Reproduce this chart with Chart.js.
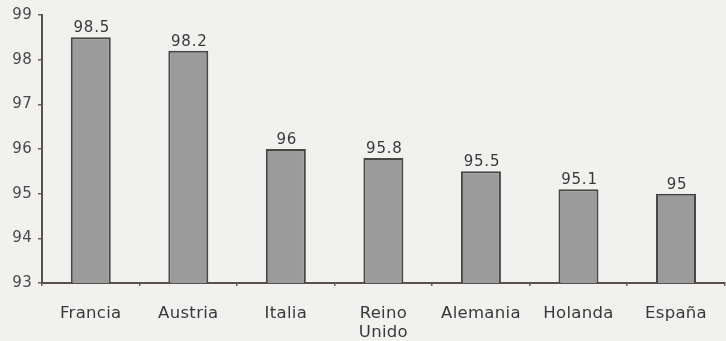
<!DOCTYPE html>
<html>
<head>
<meta charset="utf-8">
<script src="https://cdn.jsdelivr.net/npm/chart.js@4/dist/chart.umd.min.js"></script>
<style>
html,body{margin:0;padding:0;background:#f1f1f0;}
#wrap{width:726px;height:341px;position:relative;}
</style>
</head>
<body>
<div id="wrap"><canvas id="c"></canvas></div>
<script>
const categories = ['Francia', 'Austria', 'Italia', ['Reino', 'Unido'], 'Alemania', 'Holanda', 'España'];
const values = [98.5, 98.2, 96, 95.8, 95.5, 95.1, 95];
const valueLabels = ['98.5', '98.2', '96', '95.8', '95.5', '95.1', '95'];
const yTicks = [93, 94, 95, 96, 97, 98, 99];

const FONT = '"DejaVu Sans", Verdana, sans-serif';

const spacing = {
  id: 'spacing',
  beforeLayout(chart) { chart.ctx.letterSpacing = '0.3px'; },
  beforeDraw(chart) { chart.ctx.letterSpacing = '0.3px'; }
};

const valueLabelPlugin = {
  id: 'valueLabels',
  afterDatasetsDraw(chart) {
    const ctx = chart.ctx;
    const meta = chart.getDatasetMeta(0);
    ctx.save();
    ctx.letterSpacing = '0.8px';
    ctx.font = '15px ' + FONT;
    ctx.fillStyle = '#3a3838';
    ctx.textAlign = 'center';
    ctx.textBaseline = 'alphabetic';
    meta.data.forEach((bar, i) => {
      ctx.fillText(valueLabels[i], bar.x + 1, bar.y - 5);
    });
    ctx.restore();
  }
};

new Chart(document.getElementById('c'), {
  type: 'bar',
  data: {
    labels: categories,
    datasets: [{
      data: values,
      backgroundColor: '#9b9b9b',
      borderColor: '#4a4646',
      borderWidth: 2,
      borderSkipped: 'bottom',
      barPercentage: 0.82,
      categoryPercentage: 0.5
    }]
  },
  options: {
    responsive: true,
    maintainAspectRatio: false,
    animation: false,
    layout: { padding: { top: 15, right: 0, left: 0, bottom: 0 } },
    plugins: { legend: { display: false }, tooltip: { enabled: false } },
    scales: {
      x: {
        grid: { display: true, drawOnChartArea: false, tickLength: 3, color: '#6a6060', lineWidth: 1.5 },
        border: { display: true, color: '#5b5050', width: 2 },
        ticks: {
          color: '#3a3838',
          font: { family: FONT, size: 16.5, lineHeight: 1.1 },
          padding: 19,
          maxRotation: 0,
          autoSkip: false
        },
        afterFit(s) { s.height = 58; }
      },
      y: {
        min: 93,
        max: 99,
        afterBuildTicks(s) { s.ticks = yTicks.map(v => ({ value: v })); },
        grid: { display: true, drawOnChartArea: false, tickLength: 4, color: '#6a6060', lineWidth: 1.5 },
        border: { display: true, color: '#5b5050', width: 2 },
        ticks: {
          color: '#4a4848',
          font: { family: FONT, size: 15 },
          padding: 6
        },
        afterFit(s) { s.width = 42; }
      }
    }
  },
  plugins: [spacing, valueLabelPlugin]
});
</script>
</body>
</html>
